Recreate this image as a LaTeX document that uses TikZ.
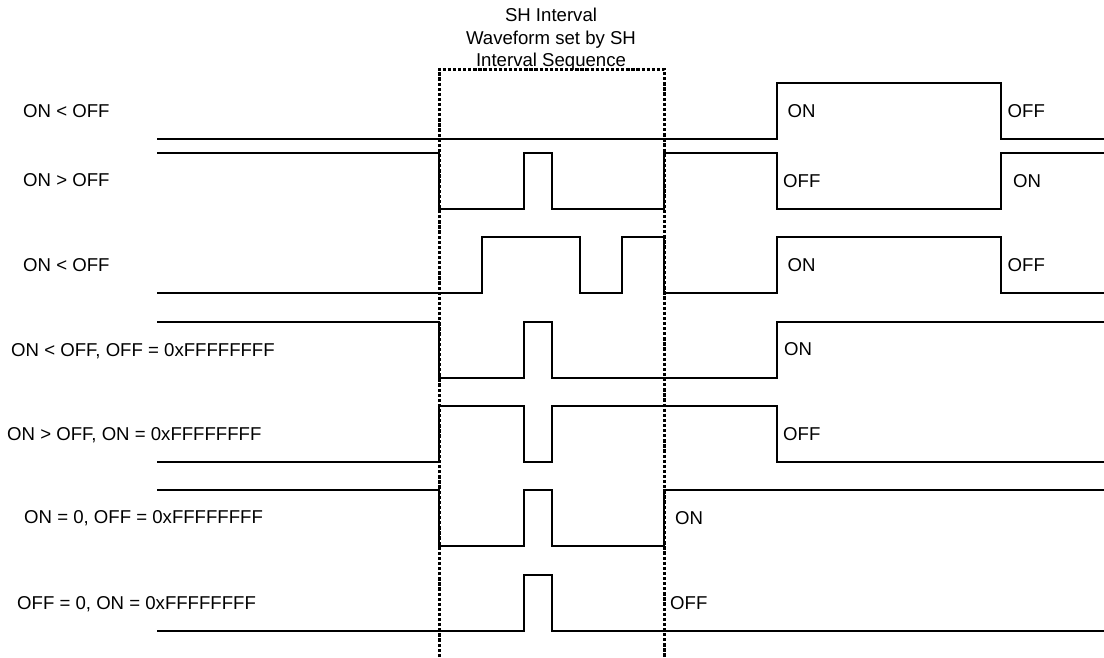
\documentclass[tikz,border=0pt]{standalone}
\usepackage{fontspec}
\setmainfont{Liberation Sans}
\begin{document}
\begin{tikzpicture}[x=1pt,y=-1pt,
  wave/.style={line width=2.2pt, line join=miter},
  frame/.style={line width=3pt, dash pattern=on 3.3pt off 1.8pt},
  lbl/.style={anchor=base west, inner sep=0pt},
  every node/.style={font=\fontsize{18.6}{22.5}\selectfont}]
\useasboundingbox (0,0) rectangle (1104,657);
% header
\node[inner sep=0pt, anchor=base, align=center] (hdr) at (551,66.7) {SH Interval\\Waveform set by SH\\Interval Sequence};
% left labels
\node[lbl] (l1) at (23,117.3) {ON < OFF};
\node[lbl] (l2) at (23,186.7) {ON > OFF};
\node[lbl] (l3) at (23,271) {ON < OFF};
\node[lbl] (l4) at (11,356) {ON < OFF, OFF = 0xFFFFFFFF};
\node[lbl] (l5) at (7,440) {ON > OFF, ON = 0xFFFFFFFF};
\node[lbl] (l6) at (24,523) {ON = 0, OFF = 0xFFFFFFFF};
\node[lbl] (l7) at (17,609) {OFF = 0, ON = 0xFFFFFFFF};
% right labels
\node[lbl] (r1a) at (787.5,117) {ON};
\node[lbl] (r1b) at (1007.5,117) {OFF};
\node[lbl] (r2a) at (783,187) {OFF};
\node[lbl] (r2b) at (1013,187) {ON};
\node[lbl] (r3a) at (787.5,271) {ON};
\node[lbl] (r3b) at (1007.5,271) {OFF};
\node[lbl] (r4) at (784,355.7) {ON};
\node[lbl] (r5) at (783,440) {OFF};
\node[lbl] (r6) at (675,524) {ON};
\node[lbl] (r7) at (670,609) {OFF};
% waveforms
\draw[wave] (157,139) -- (777,139) -- (777,83) -- (1001,83) -- (1001,139) -- (1104,139);
\draw[wave] (157,153) -- (439,153) -- (439,209) -- (524,209) -- (524,153) -- (552,153) -- (552,209) -- (664,209) -- (664,153) -- (777,153) -- (777,209) -- (1001,209) -- (1001,153) -- (1104,153);
\draw[wave] (157,293) -- (482,293) -- (482,237) -- (580,237) -- (580,293) -- (622,293) -- (622,237) -- (664,237) -- (664,293) -- (777,293) -- (777,237) -- (1001,237) -- (1001,293) -- (1104,293);
\draw[wave] (157,322) -- (439,322) -- (439,378) -- (524,378) -- (524,322) -- (552,322) -- (552,378) -- (777,378) -- (777,322) -- (1104,322);
\draw[wave] (157,462) -- (439,462) -- (439,406) -- (524,406) -- (524,462) -- (552,462) -- (552,406) -- (777,406) -- (777,462) -- (1104,462);
\draw[wave] (157,490) -- (439,490) -- (439,546) -- (524,546) -- (524,490) -- (552,490) -- (552,546) -- (664,546) -- (664,490) -- (1104,490);
\draw[wave] (157,631) -- (524,631) -- (524,575) -- (552,575) -- (552,631) -- (1104,631);
% SH interval frame
\draw[frame] (439,657) -- (439,69) -- (664,69) -- (664,657);
\end{tikzpicture}
\end{document}
